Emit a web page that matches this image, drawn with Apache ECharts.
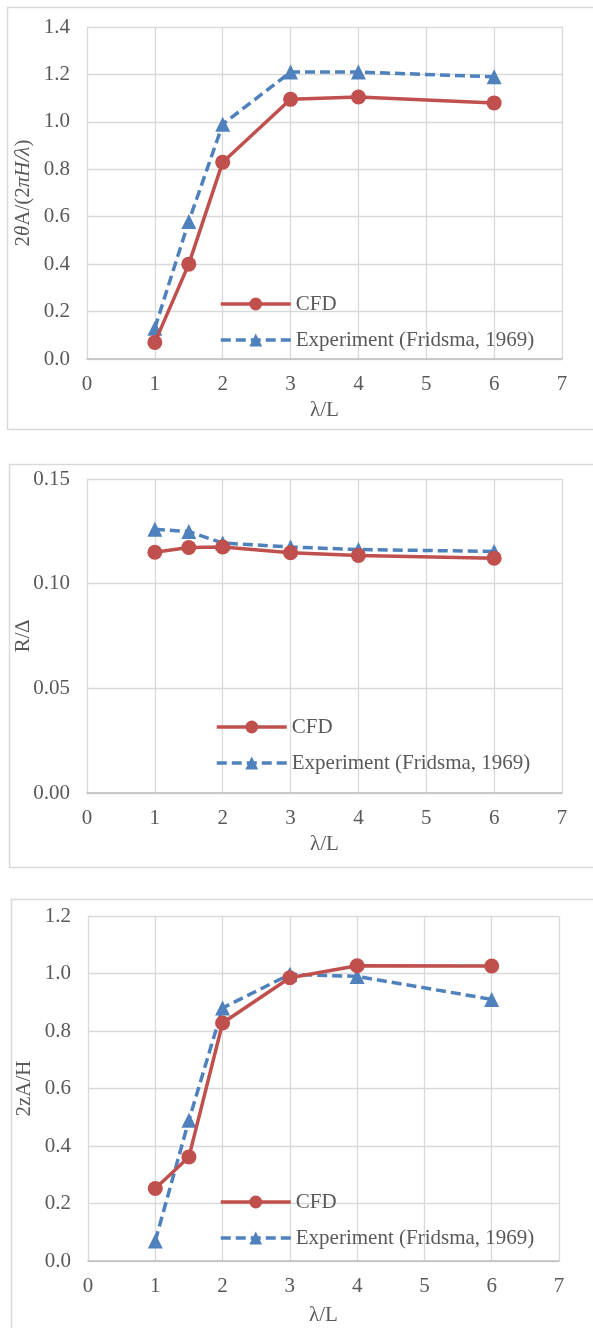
<!DOCTYPE html>
<html>
<head>
<meta charset="utf-8">
<script src="https://cdn.jsdelivr.net/npm/echarts@6/dist/echarts.min.js"></script>
<style>
  html, body { margin: 0; padding: 0; background: #fff; }
  #chart { width: 593px; height: 1328px; }
</style>
</head>
<body>
<div id="chart"></div>
<script>
// Wavelength ratio λ/L at which the runs were made
const lambdaL = [1, 1.5, 2, 3, 4, 6];

// Pitch amplitude 2θA/(2πH/λ)
const pitchCFD = [0.07, 0.40, 0.83, 1.095, 1.105, 1.08];
const pitchExp = [0.13, 0.58, 0.99, 1.21, 1.21, 1.19];

// Resistance R/∆
const resistCFD = [0.115, 0.1173, 0.1175, 0.1148, 0.1135, 0.1122];
const resistExp = [0.126, 0.1249, 0.1194, 0.1175, 0.1163, 0.1154];

// Heave amplitude 2zA/H
const heaveCFD = [0.252, 0.362, 0.828, 0.985, 1.027, 1.026];
const heaveExp = [0.07, 0.49, 0.88, 0.997, 0.99, 0.91];

// Axis settings
const xTicks = { min: 0, max: 7, interval: 1 };
const pitchTicks = { min: 0, max: 1.4, interval: 0.2, digits: 1 };
const resistTicks = { min: 0, max: 0.15, interval: 0.05, digits: 2 };
const heaveTicks = { min: 0, max: 1.2, interval: 0.2, digits: 1 };

const NAME_CFD = 'CFD';
const NAME_EXP = 'Experiment (Fridsma, 1969)';

const FONT = '"Liberation Serif", "Times New Roman", serif';
const FS = 21;
const TEXT = '#595959';
const GRIDC = '#D9D9D9';
const RED = '#C0504D';
const BLUE = '#4F81BD';

const zip = (xs, ys) => xs.map((x, i) => [x, ys[i]]);

const grids = [
  { left: 87, top: 27, width: 475, height: 332, outerBoundsMode: 'none' },
  { left: 87, top: 479, width: 475, height: 314, outerBoundsMode: 'none' },
  { left: 88, top: 916, width: 471, height: 345, outerBoundsMode: 'none' }
];

function xAxis(idx, gap) {
  return {
    type: 'value', gridIndex: idx,
    min: xTicks.min, max: xTicks.max, interval: xTicks.interval,
    name: 'λ/L', nameLocation: 'middle', nameGap: gap,
    nameMoveOverlap: false,
    nameTextStyle: { fontFamily: FONT, fontSize: FS, color: TEXT },
    axisLine: { show: true, onZero: false, lineStyle: { color: '#BFBFBF', width: 1.5 } },
    axisTick: { show: false },
    axisLabel: { fontFamily: FONT, fontSize: FS, color: TEXT, margin: 15 },
    splitLine: { show: true, lineStyle: { color: GRIDC, width: 1.3 } }
  };
}

function yAxis(idx, t, name) {
  return {
    type: 'value', gridIndex: idx,
    min: t.min, max: t.max, interval: t.interval,
    name: name, nameLocation: 'middle', nameGap: 53,
    nameMoveOverlap: false,
    nameTextStyle: {
      fontFamily: FONT, fontSize: FS, color: TEXT,
      rich: {
        n: { fontFamily: FONT, fontSize: FS, color: TEXT },
        i: { fontFamily: FONT, fontSize: FS, color: TEXT, fontStyle: 'italic' }
      }
    },
    axisLine: { show: false },
    axisTick: { show: false },
    axisLabel: {
      fontFamily: FONT, fontSize: FS, color: TEXT, margin: 17,
      formatter: v => v.toFixed(t.digits)
    },
    splitLine: { show: true, lineStyle: { color: GRIDC, width: 1.3 } }
  };
}

function cfdSeries(idx, ys) {
  return {
    name: NAME_CFD, type: 'line', xAxisIndex: idx, yAxisIndex: idx,
    data: zip(lambdaL, ys),
    symbol: 'circle', symbolSize: 15,
    lineStyle: { color: RED, width: 3.5 },
    itemStyle: { color: RED },
    z: 3
  };
}

function expSeries(idx, ys) {
  return {
    name: NAME_EXP, type: 'line', xAxisIndex: idx, yAxisIndex: idx,
    data: zip(lambdaL, ys),
    symbol: 'triangle', symbolSize: 15,
    lineStyle: { color: BLUE, width: 3.5, type: [10, 5] },
    itemStyle: { color: BLUE },
    z: 2
  };
}

function legend(left, top) {
  return {
    orient: 'vertical', left: left, top: top,
    data: [NAME_CFD, NAME_EXP],
    itemWidth: 70, itemHeight: 16, itemGap: 12,
    selectedMode: false,
    lineStyle: { width: 3.5 },
    textStyle: { fontFamily: FONT, fontSize: FS, color: TEXT, lineHeight: 24 },
    padding: 0
  };
}

function frame(x, y, w, h) {
  return {
    type: 'rect', left: x, top: y, silent: true,
    shape: { width: w, height: h },
    style: { fill: 'none', stroke: GRIDC, lineWidth: 1.5 }
  };
}

const chart = echarts.init(document.getElementById('chart'), null, { renderer: 'canvas' });

chart.setOption({
  backgroundColor: '#fff',
  animation: false,
  graphic: [
    frame(5, 5, 600, 422),
    frame(7, 462, 600, 403),
    frame(9, 897, 600, 500)
  ],
  grid: grids,
  xAxis: [xAxis(0, 41), xAxis(1, 41), xAxis(2, 44)],
  yAxis: [
    yAxis(0, pitchTicks, '{n|2}{i|θ}{n|A/(2}{i|πH/λ}{n|)}'),
    yAxis(1, resistTicks, 'R/∆'),
    yAxis(2, heaveTicks, '2zA/H')
  ],
  legend: [legend(219, 292), legend(215, 715), legend(219, 1190)],
  series: [
    cfdSeries(0, pitchCFD), expSeries(0, pitchExp),
    cfdSeries(1, resistCFD), expSeries(1, resistExp),
    cfdSeries(2, heaveCFD), expSeries(2, heaveExp)
  ]
});
</script>
</body>
</html>
